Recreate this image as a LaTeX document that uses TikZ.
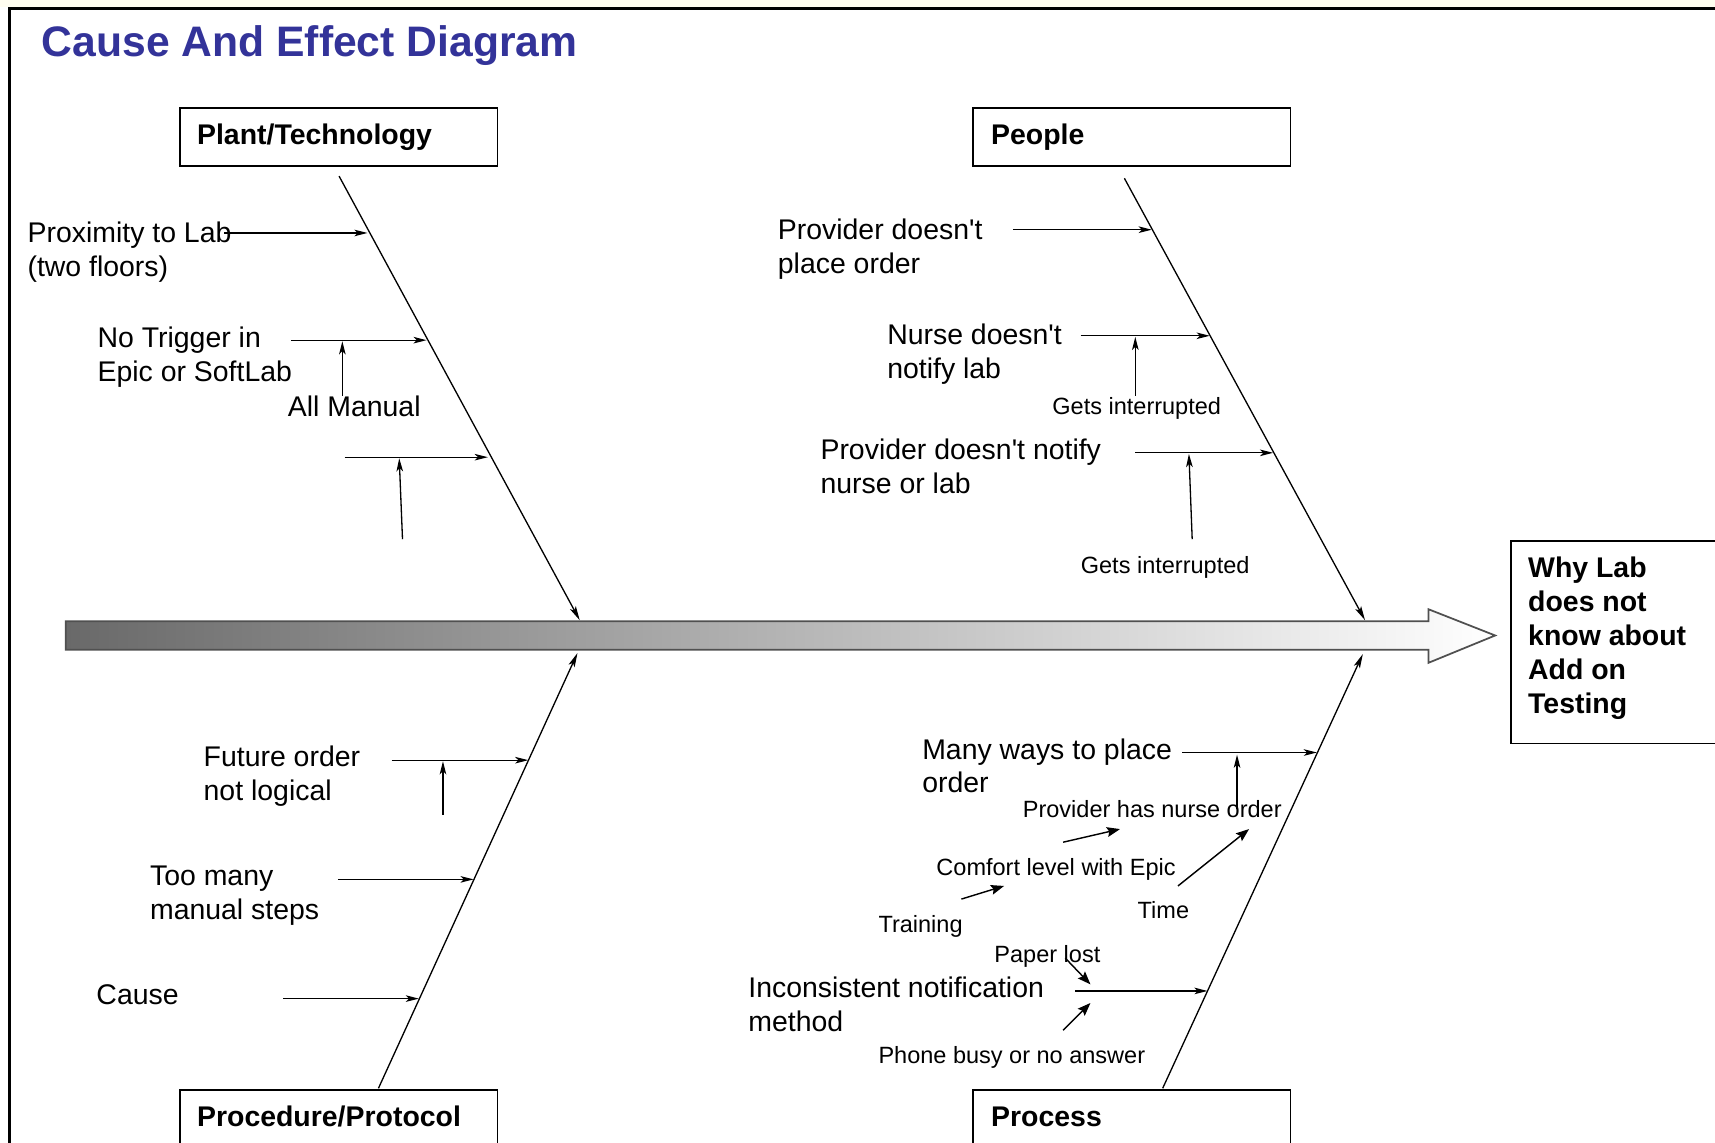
\documentclass[tikz,border=0pt]{standalone}
\usepackage{fontspec}
\setmainfont{Liberation Sans}[Ligatures=TeXOff]
\usetikzlibrary{arrows.meta}
\definecolor{titleblue}{RGB}{51,51,153}
\definecolor{spinegray}{RGB}{105,105,105}
\definecolor{spineline}{RGB}{80,80,80}
\definecolor{cream}{RGB}{255,253,240}
\begin{document}
\begin{tikzpicture}[x=1pt,y=-1pt,
  lbl/.style={inner sep=0pt, anchor=base west, align=left, font=\fontsize{26}{31}\selectfont},
  sml/.style={inner sep=0pt, anchor=base west, font=\fontsize{21.5}{26}\selectfont},
  catbox/.style={draw, line width=1.3pt, anchor=north west, minimum width=290pt, minimum height=53pt, inner sep=0pt},
  cattext/.style={inner sep=0pt, anchor=base west, align=left, font=\bfseries\fontsize{26}{31}\selectfont},
  bone/.style={line width=1.2pt, -{Stealth[length=13pt,width=6pt,inset=3pt]}},
  sub/.style={line width=1.2pt, -{Stealth[length=12pt,width=6pt,inset=3pt]}},
  diag/.style={line width=1.3pt, -{Stealth[length=12pt,width=9pt,inset=2pt]}},
]
\clip (0,0) rectangle (1568,1045);
\fill[white] (0,0) rectangle (1568,1045);
\fill[cream] (0,0) rectangle (1568,6.2);
% frame
\draw[line width=2.5pt] (8.5,1060) -- (8.5,7.5) -- (1580,7.5);

% title
\node[inner sep=0pt, anchor=base west, font=\bfseries\fontsize{39}{47}\selectfont, text=titleblue] (title) at (38,52) {Cause And Effect Diagram};

% spine
\path[draw=spineline, line width=1.6pt, left color=spinegray, right color=white]
  (60,568) -- (1306,568) -- (1306,557) -- (1367,581) -- (1306,606) -- (1306,594) -- (60,594) -- cycle;

% category boxes
\node[catbox] (plant) at (164,98) {};
\node[cattext] (plantT) at (180,132) {Plant/Technology};
\node[catbox] (people) at (889,98) {};
\node[cattext] (peopleT) at (906,132) {People};
\node[catbox] (proc) at (164,996) {};
\node[cattext] (procT) at (180,1030) {Procedure/Protocol};
\node[catbox] (process) at (889,996) {};
\node[cattext] (processT) at (906,1030) {Process};

% effect (base anchor = last line)
\node[catbox, minimum width=240pt, minimum height=185pt] (effect) at (1381,494) {};
\node[cattext] (effectT) at (1397,652) {Why Lab\\does not\\know about\\Add on\\Testing};

% bones
\coordinate (tl1) at (310,161); \coordinate (tl2) at (530,567);
\coordinate (tr1) at (1028,163); \coordinate (tr2) at (1248,567);
\coordinate (bl1) at (346,995); \coordinate (bl2) at (528,597);
\coordinate (br1) at (1063,995); \coordinate (br2) at (1246,598);
\draw[bone] (tl1) -- (tl2);
\draw[bone] (tr1) -- (tr2);
\draw[bone] (bl1) -- (bl2);
\draw[bone] (br1) -- (br2);

% Plant/Technology causes
\node[lbl] (prox) at (25,253) {Proximity to Lab\\(two floors)};
\coordinate (a1s) at (205,213); \coordinate (a1e) at (336,213);
\draw[sub] (a1s) -- (a1e);
\node[lbl] (trig) at (89,349) {No Trigger in\\Epic or SoftLab};
\coordinate (a2s) at (266,311); \coordinate (a2e) at (390,311);
\draw[sub] (a2s) -- (a2e);
\node[lbl] (allman) at (263,381) {All Manual};
\coordinate (v1s) at (313,362); \coordinate (v1e) at (313,312);
\draw[sub] (v1s) -- (v1e);
\coordinate (a3s) at (315,418); \coordinate (a3e) at (446,418);
\draw[sub] (a3s) -- (a3e);
\coordinate (v2s) at (368,493); \coordinate (v2e) at (365,419);
\draw[sub] (v2s) -- (v2e);

% People causes
\node[lbl] (pdpo) at (711,250) {Provider doesn't\\place order};
\coordinate (a4s) at (926,210); \coordinate (a4e) at (1053,210);
\draw[sub] (a4s) -- (a4e);
\node[lbl] (nurse) at (811,346) {Nurse doesn't\\notify lab};
\coordinate (a5s) at (988,307); \coordinate (a5e) at (1106,307);
\draw[sub] (a5s) -- (a5e);
\node[sml] (gi1) at (962,379) {Gets interrupted};
\coordinate (v3s) at (1038,362); \coordinate (v3e) at (1038,308);
\draw[sub] (v3s) -- (v3e);
\node[lbl] (pdn) at (750,451) {Provider doesn't notify\\nurse or lab};
\coordinate (a6s) at (1038,414); \coordinate (a6e) at (1164,414);
\draw[sub] (a6s) -- (a6e);
\coordinate (v4s) at (1090,493); \coordinate (v4e) at (1087,415);
\draw[sub] (v4s) -- (v4e);
\node[sml] (gi2) at (988,524) {Gets interrupted};

% Procedure/Protocol causes
\node[lbl] (future) at (186,732) {Future order\\not logical};
\coordinate (a7s) at (358,695); \coordinate (a7e) at (483,695);
\draw[sub] (a7s) -- (a7e);
\coordinate (v5s) at (405,745); \coordinate (v5e) at (405,696);
\draw[sub] (v5s) -- (v5e);
\node[lbl] (toomany) at (137,841) {Too many\\manual steps};
\coordinate (a8s) at (309,804); \coordinate (a8e) at (433,804);
\draw[sub] (a8s) -- (a8e);
\node[lbl] (cause) at (88,918) {Cause};
\coordinate (a9s) at (259,913); \coordinate (a9e) at (383,913);
\draw[sub] (a9s) -- (a9e);

% Process causes
\node[lbl] (many) at (843,725) {Many ways to place\\order};
\coordinate (a10s) at (1081,688); \coordinate (a10e) at (1204,688);
\draw[sub] (a10s) -- (a10e);
\node[sml] (phno) at (935,747) {Provider has nurse order};
\coordinate (v6s) at (1131,740); \coordinate (v6e) at (1131,690);
\draw[sub] (v6s) -- (v6e);
\coordinate (d1s) at (972,770); \coordinate (d1e) at (1024,758);
\draw[diag] (d1s) -- (d1e);
\node[sml] (comfort) at (856,800) {Comfort level with Epic};
\coordinate (d2s) at (879,822); \coordinate (d2e) at (918,810);
\draw[diag] (d2s) -- (d2e);
\node[sml] (training) at (803,853) {Training};
\coordinate (d3s) at (1077,810); \coordinate (d3e) at (1142,758);
\draw[diag] (d3s) -- (d3e);
\node[sml] (time) at (1040,840) {Time};
\node[sml] (paper) at (909,880) {Paper lost};
\coordinate (d4s) at (974,876); \coordinate (d4e) at (997,900);
\draw[diag] (d4s) -- (d4e);
\node[lbl] (incons) at (684,943) {Inconsistent notification\\method};
\coordinate (a11s) at (983,906); \coordinate (a11e) at (1104,906);
\draw[sub] (a11s) -- (a11e);
\coordinate (d5s) at (972,942); \coordinate (d5e) at (997,917);
\draw[diag] (d5s) -- (d5e);
\node[sml] (phone) at (803,972) {Phone busy or no answer};
\end{tikzpicture}
\end{document}
